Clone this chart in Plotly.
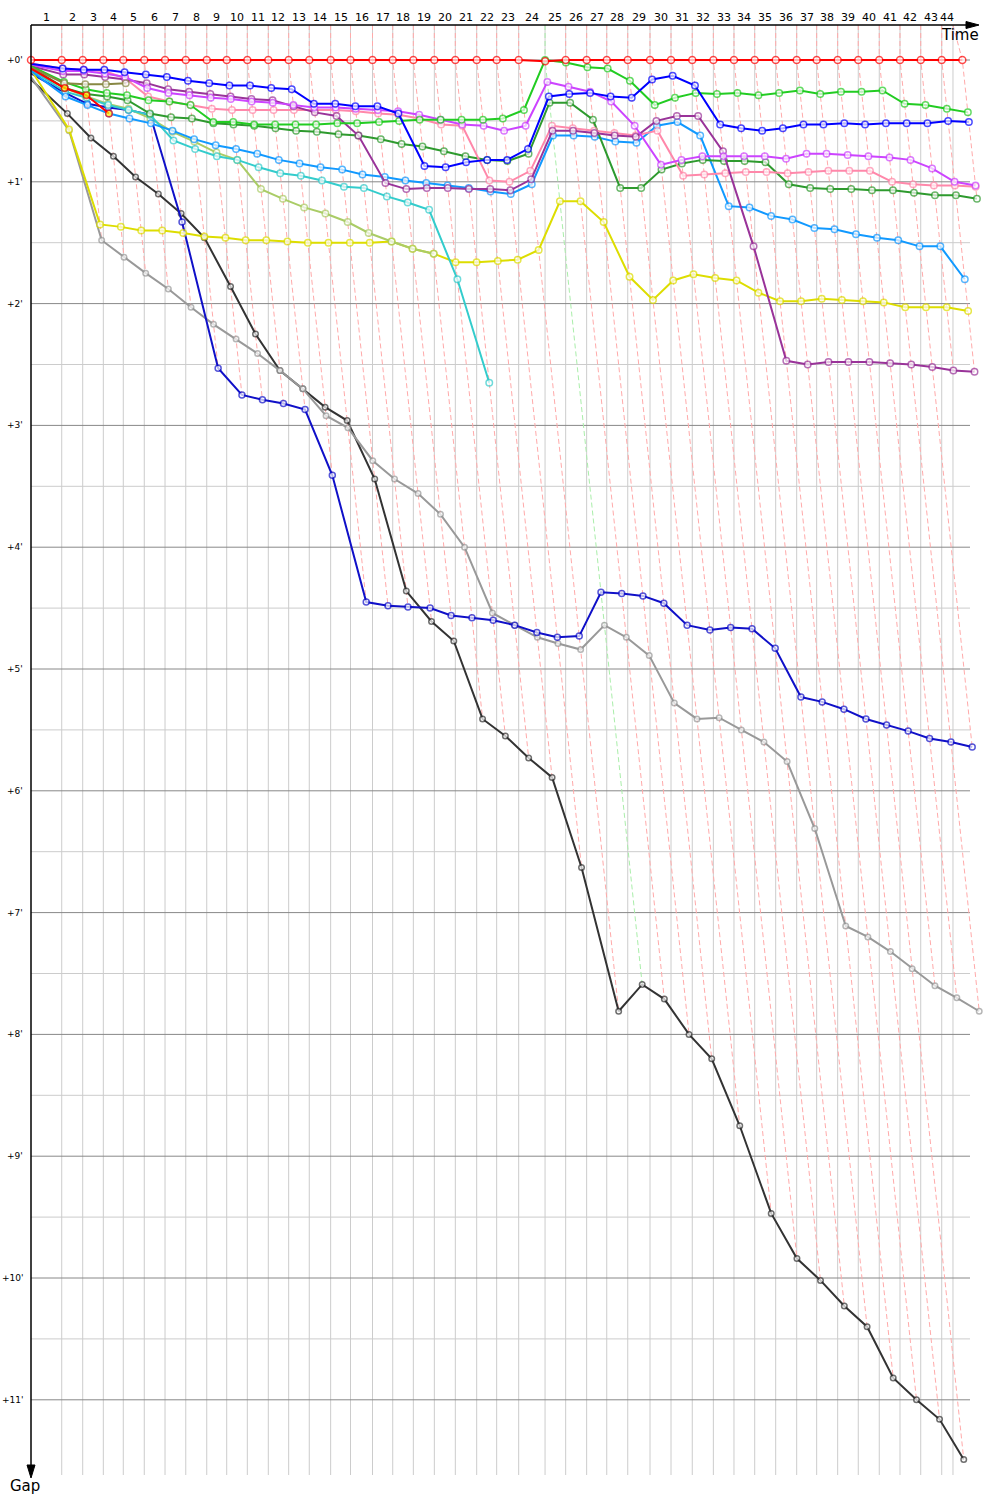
import plotly.graph_objects as go

# ---------------- data (minutes) ----------------
lap_numbers = list(range(1, 45))
# leader's cumulative race time at the end of laps 0..44
leader_time = [0.00, 2.40, 4.04, 5.65, 7.21, 8.85, 10.47, 12.09, 13.73, 15.29, 16.90,
               18.54, 20.13, 21.74, 23.41, 24.96, 26.68, 28.26, 29.87, 31.51, 33.15,
               34.82, 36.38, 38.10, 40.16, 41.77, 43.41, 44.98, 46.62, 48.36, 50.00,
               51.66, 53.31, 54.92, 56.54, 58.18, 59.82, 61.38, 63.02, 64.63, 66.27,
               67.89, 69.51, 71.15, 72.76]
final_mark_time = 72.03
gap_ticks = [0, 1, 2, 3, 4, 5, 6, 7, 8, 9, 10, 11]
gap_tick_labels = ["+0'", "+1'", "+2'", "+3'", "+4'", "+5'", "+6'", "+7'", "+8'", "+9'", "+10'", "+11'"]

# gaps to the leader (minutes), laps 0..n
red_gap = [0.00, 0.00, 0.00, 0.00, 0.00, 0.00, 0.00, 0.00, 0.00, 0.00, 0.00, 0.00, 0.00, 0.00, 0.00,
           0.00, 0.00, 0.00, 0.00, 0.00, 0.00, 0.00, 0.00, 0.00, 0.01, 0.00, 0.00, 0.00, 0.00, 0.00,
           0.00, 0.00, 0.00, 0.00, 0.00, 0.00, 0.00, 0.00, 0.00, 0.00, 0.00, 0.00, 0.00, 0.00, 0.00]
blue_gap = [0.03, 0.07, 0.08, 0.08, 0.10, 0.12, 0.14, 0.17, 0.19, 0.21, 0.21, 0.23, 0.24, 0.36, 0.36,
            0.38, 0.38, 0.44, 0.87, 0.88, 0.84, 0.82, 0.82, 0.73, 0.30, 0.28, 0.27, 0.30, 0.31, 0.16,
            0.13, 0.21, 0.53, 0.56, 0.58, 0.56, 0.53, 0.53, 0.52, 0.53, 0.52, 0.52, 0.52, 0.50, 0.51]
green_gap = [0.05, 0.18, 0.24, 0.27, 0.29, 0.33, 0.34, 0.37, 0.51, 0.51, 0.53, 0.53, 0.53, 0.53, 0.52,
             0.52, 0.51, 0.50, 0.49, 0.49, 0.49, 0.49, 0.48, 0.41, 0.00, 0.02, 0.06, 0.07, 0.17, 0.37,
             0.31, 0.27, 0.28, 0.27, 0.29, 0.27, 0.25, 0.28, 0.26, 0.26, 0.25, 0.36, 0.37, 0.40, 0.43]
darkgreen_gap = [0.06, 0.23, 0.28, 0.30, 0.33, 0.44, 0.47, 0.48, 0.52, 0.53, 0.54, 0.56, 0.58, 0.59, 0.61,
                 0.62, 0.65, 0.69, 0.71, 0.75, 0.79, 0.82, 0.83, 0.77, 0.35, 0.35, 0.49, 1.05, 1.05, 0.90,
                 0.85, 0.82, 0.83, 0.83, 0.84, 1.02, 1.05, 1.06, 1.06, 1.07, 1.07, 1.09, 1.11, 1.11, 1.14]
violet_gap = [0.04, 0.09, 0.09, 0.11, 0.14, 0.23, 0.27, 0.29, 0.31, 0.32, 0.34, 0.35, 0.37, 0.39, 0.39,
              0.40, 0.41, 0.42, 0.45, 0.49, 0.53, 0.54, 0.58, 0.54, 0.18, 0.22, 0.26, 0.34, 0.54, 0.86,
              0.82, 0.79, 0.79, 0.79, 0.79, 0.81, 0.77, 0.77, 0.78, 0.79, 0.80, 0.82, 0.89, 1.00, 1.03]
purple_gap = [0.05, 0.12, 0.12, 0.14, 0.16, 0.19, 0.24, 0.26, 0.28, 0.30, 0.32, 0.33, 0.38, 0.43, 0.46,
              0.62, 1.01, 1.06, 1.05, 1.05, 1.06, 1.06, 1.07, 0.98, 0.58, 0.58, 0.60, 0.62, 0.63, 0.50,
              0.46, 0.46, 0.75, 1.53, 2.47, 2.50, 2.48, 2.48, 2.48, 2.49, 2.50, 2.52, 2.55, 2.56]
pink_gap = [0.03, 0.07, 0.08, 0.09, 0.15, 0.30, 0.34, 0.37, 0.40, 0.41, 0.41, 0.41, 0.41, 0.41, 0.41,
            0.42, 0.44, 0.45, 0.48, 0.53, 0.54, 0.99, 1.00, 0.91, 0.54, 0.56, 0.58, 0.60, 0.62, 0.58,
            0.95, 0.94, 0.93, 0.92, 0.92, 0.93, 0.92, 0.91, 0.91, 0.91, 1.00, 1.02, 1.03, 1.03, 1.04]
skyblue_gap = [0.09, 0.30, 0.37, 0.44, 0.48, 0.52, 0.58, 0.65, 0.70, 0.73, 0.77, 0.82, 0.85, 0.88, 0.90,
               0.94, 0.96, 0.99, 1.01, 1.03, 1.05, 1.08, 1.10, 1.02, 0.62, 0.62, 0.63, 0.67, 0.68, 0.54,
               0.51, 0.62, 1.20, 1.21, 1.28, 1.31, 1.38, 1.39, 1.43, 1.46, 1.48, 1.53, 1.53, 1.80]
cyan_gap = [0.08, 0.26, 0.31, 0.37, 0.41, 0.45, 0.66, 0.73, 0.79, 0.82, 0.88, 0.93, 0.95, 0.99, 1.04,
            1.05, 1.12, 1.17, 1.23, 1.80, 2.65]
lime_gap = [0.08, 0.23, 0.30, 0.36, 0.40, 0.48, 0.59, 0.67, 0.76, 0.82, 1.06, 1.14, 1.21, 1.26, 1.33,
            1.42, 1.49, 1.55, 1.59]
yellow_gap = [0.08, 0.57, 1.35, 1.37, 1.40, 1.40, 1.42, 1.45, 1.46, 1.48, 1.48, 1.49, 1.50, 1.50, 1.50,
              1.50, 1.49, 1.55, 1.59, 1.66, 1.66, 1.65, 1.64, 1.56, 1.16, 1.16, 1.33, 1.78, 1.97, 1.81,
              1.76, 1.79, 1.81, 1.91, 1.98, 1.98, 1.96, 1.97, 1.98, 1.99, 2.03, 2.03, 2.03, 2.06]
navy_gap = [0.11, 0.27, 0.36, 0.39, 0.41, 0.45, 1.33, 2.53, 2.75, 2.79, 2.82, 2.87, 3.41, 4.45, 4.48,
            4.49, 4.50, 4.56, 4.58, 4.60, 4.64, 4.70, 4.74, 4.73, 4.37, 4.38, 4.40, 4.46, 4.64, 4.68,
            4.66, 4.67, 4.83, 5.23, 5.27, 5.33, 5.41, 5.46, 5.51, 5.57, 5.60, 5.64]
gray_gap = [0.14, 0.58, 1.48, 1.62, 1.75, 1.88, 2.03, 2.17, 2.29, 2.41, 2.55, 2.70, 2.92, 3.02, 3.29,
            3.44, 3.56, 3.73, 4.00, 4.54, 4.64, 4.74, 4.79, 4.84, 4.64, 4.74, 4.89, 5.28, 5.41, 5.40,
            5.50, 5.60, 5.76, 6.31, 7.11, 7.20, 7.32, 7.46, 7.60, 7.70, 7.81]
black_gap = [0.16, 0.44, 0.64, 0.79, 0.96, 1.10, 1.26, 1.46, 1.86, 2.25, 2.55, 2.70, 2.85, 2.96, 3.44,
             4.36, 4.61, 4.77, 5.41, 5.55, 5.73, 5.89, 6.63, 7.81, 7.59, 7.71, 8.00, 8.20, 8.75, 9.47,
             9.84, 10.02, 10.23, 10.40, 10.82, 11.00, 11.16, 11.49]
redyellow_gap = [0.07, 0.23, 0.29, 0.44]
olive_gap = [0.06, 0.19, 0.20, 0.20, 0.19]

# ---------------- styles (draw order bottom -> top) ----------------
series = [
    (black_gap, "#333333", 2, 5.5, "white"),
    (gray_gap, "#999999", 2, 5.5, "white"),
    (navy_gap, "#1010c8", 2, 6, "white"),
    (yellow_gap, "#dddd00", 2, 6.5, "white"),
    (lime_gap, "#aacc66", 2, 6.5, "white"),
    (cyan_gap, "#33cccc", 2, 6.5, "white"),
    (skyblue_gap, "#1199ff", 2, 6.5, "white"),
    (darkgreen_gap, "#2e9a2e", 2, 6.5, "white"),
    (pink_gap, "#ff88aa", 2, 6.5, "white"),
    (purple_gap, "#993399", 2, 6.5, "white"),
    (violet_gap, "#cc44ff", 2, 6.5, "white"),
    (green_gap, "#22cc22", 2, 6.5, "white"),
    (blue_gap, "#0000ff", 2, 6.5, "white"),
    (olive_gap, "#888844", 2, 6.5, "white"),
    (redyellow_gap, "#ff0000", 2, 6.5, "#ffff00"),
    (red_gap, "#ff0000", 2, 7, "white"),
]

# ---------------- geometry of the picture ----------------
SX, SY, OX, OY = 12.8, 121.8, 31.0, 60.0   # px per minute, origin pixel


def fx(px):
    return (px - OX) / SX


def fy(py):
    return (py - OY) / SY


fig = go.Figure()

# grid: vertical lines at lap marks
marks = leader_time[1:44] + [final_mark_time]
vx, vy = [], []
for m in marks:
    vx += [m, m, None]
    vy += [fy(25), fy(1475), None]
fig.add_trace(go.Scatter(x=vx, y=vy, mode="lines", line=dict(color="#cccccc", width=1), hoverinfo="skip"))

# grid: horizontal lines
hx_l, hy_l, hx_d, hy_d = [], [], [], []
for g in gap_ticks:
    hx_d += [0, fx(970), None]
    hy_d += [g, g, None]
    if g + 0.5 <= 10.5:
        hx_l += [0, fx(970), None]
        hy_l += [g + 0.5, g + 0.5, None]
fig.add_trace(go.Scatter(x=hx_l, y=hy_l, mode="lines", line=dict(color="#cccccc", width=1), hoverinfo="skip"))
fig.add_trace(go.Scatter(x=hx_d, y=hy_d, mode="lines", line=dict(color="#888888", width=1), hoverinfo="skip"))

# dashed lap lines
all_gaps = [s[0] for s in series]
dr_x, dr_y, dg_x, dg_y = [], [], [], []
for k in range(1, 45):
    vals = [g[k] for g in all_gaps if len(g) > k]
    gmax = max(vals)
    lead_green = green_gap[k] < red_gap[k]
    xs = [marks[k - 1], leader_time[k], leader_time[k] + gmax, None]
    ys = [fy(25), 0, gmax, None]
    if lead_green:
        dg_x += xs
        dg_y += ys
    else:
        dr_x += xs
        dr_y += ys
fig.add_trace(go.Scatter(x=dr_x, y=dr_y, mode="lines",
                         line=dict(color="#ffaaaa", width=1, dash="5px,3px"), hoverinfo="skip"))
fig.add_trace(go.Scatter(x=dg_x, y=dg_y, mode="lines",
                         line=dict(color="#aaeeaa", width=1, dash="5px,3px"), hoverinfo="skip"))

# driver traces
for gaps, color, width, msize, fill in series:
    xs = [0.0 if k == 0 else leader_time[k] + g for k, g in enumerate(gaps)]
    sizes = [msize if (k > 0 or gaps is red_gap) else 0 for k in range(len(gaps))]
    fig.add_trace(go.Scatter(
        x=xs, y=gaps, mode="lines+markers",
        line=dict(color=color, width=width),
        marker=dict(size=sizes, color=fill, line=dict(color=color, width=1.5)),
        hoverinfo="skip"))

# axes: top time axis and left gap axis with arrows
shapes = [
    dict(type="line", x0=0, y0=fy(25), x1=fx(970), y1=fy(25), line=dict(color="black", width=1.5)),
    dict(type="path", path=f"M {fx(966)},{fy(21.5)} L {fx(979)},{fy(25)} L {fx(966)},{fy(28.5)} Z",
         fillcolor="black", line=dict(color="black", width=1)),
    dict(type="line", x0=0, y0=fy(25), x1=0, y1=fy(1466), line=dict(color="black", width=1.5)),
    dict(type="path", path=f"M {fx(27)},{fy(1465)} L {fx(31)},{fy(1478)} L {fx(35)},{fy(1465)} Z",
         fillcolor="black", line=dict(color="black", width=1)),
]

annotations = []
for i, lap in enumerate(lap_numbers):
    left = 0.0 if i == 0 else marks[i - 1]
    annotations.append(dict(x=(left + marks[i]) / 2, y=fy(17), text=str(lap), showarrow=False,
                            font=dict(family="DejaVu Sans", size=11, color="black"),
                            xanchor="center", yanchor="middle"))
for g, lab in zip(gap_ticks, gap_tick_labels):
    annotations.append(dict(x=fx(25), y=g, text=lab, showarrow=False,
                            font=dict(family="DejaVu Sans", size=9, color="black"),
                            xanchor="right", yanchor="middle"))
annotations.append(dict(x=fx(960), y=fy(35), text="Time", showarrow=False,
                        font=dict(family="DejaVu Sans", size=15, color="black"),
                        xanchor="center", yanchor="middle"))
annotations.append(dict(x=fx(25), y=fy(1486), text="Gap", showarrow=False,
                        font=dict(family="DejaVu Sans", size=15, color="black"),
                        xanchor="center", yanchor="middle"))

fig.update_layout(
    width=1000, height=1500,
    margin=dict(l=0, r=0, t=0, b=0),
    paper_bgcolor="white", plot_bgcolor="white",
    showlegend=False, hovermode=False,
    xaxis=dict(range=[fx(0), fx(1000)], visible=False, fixedrange=True),
    yaxis=dict(range=[fy(1500), fy(0)], visible=False, fixedrange=True),
    shapes=shapes, annotations=annotations,
)

fig.write_html("out.html", include_plotlyjs=True, full_html=True,
               config={"displayModeBar": False, "staticPlot": True},
               post_script="document.body.style.margin='0';document.body.style.overflow='hidden';")
